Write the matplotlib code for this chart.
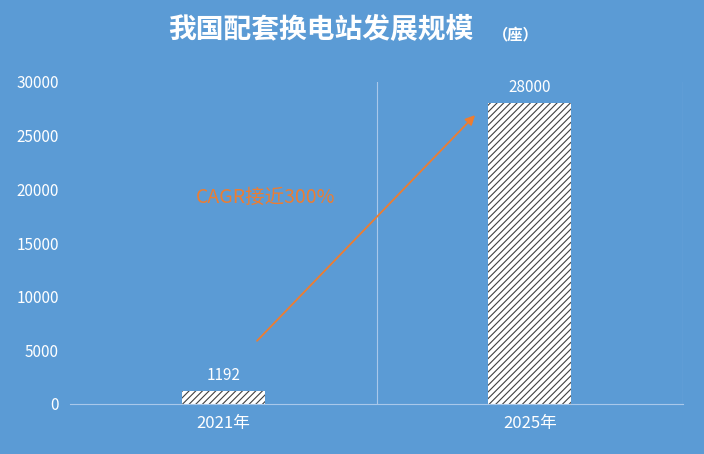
import matplotlib
matplotlib.use('Agg')
from matplotlib import pyplot as plt

plt.rcParams['font.family'] = ['Noto Sans CJK SC', 'DejaVu Sans']
plt.rcParams['hatch.color'] = '#404040'
plt.rcParams['hatch.linewidth'] = 0.8

categories = ['2021年', '2025年']
values = [1192, 28000]
value_labels = ['1192', '28000']
yticks = [0, 5000, 10000, 15000, 20000, 25000, 30000]

bg = '#5B9BD5'
fig = plt.figure(figsize=(7.04, 4.54), dpi=100, facecolor=bg)
ax = fig.add_axes([70 / 704, 50 / 454, 613 / 704, 322 / 454], facecolor=bg)

x = [0, 1]
ax.bar(x, values, width=0.27, color='white', edgecolor='#404040', linewidth=0, hatch='/////')
for xi, v, lab in zip(x, values, value_labels):
    ax.text(xi, v + 700, lab, ha='center', va='bottom', color='white', fontsize=11)

ax.set_xlim(-0.5, 1.5)
ax.set_ylim(0, 30000)
ax.set_yticks(yticks)
ax.set_yticklabels([str(t) for t in yticks], color='white', fontsize=11)
ax.set_xticks(x)
ax.set_xticklabels(categories, color='white', fontsize=12)
ax.tick_params(length=0, pad=8)
for xv in [0.5, 1.5]:
    ax.axvline(xv, color='#A9C8EA', linewidth=0.8)
for s in ['top', 'right', 'left']:
    ax.spines[s].set_visible(False)
ax.spines['bottom'].set_color('#A9C8EA')

# growth arrow
ax.annotate('', xy=(0.828, 27100), xytext=(0.104, 5700),
            arrowprops=dict(arrowstyle='-|>', color='#ED7D31', lw=1.3, mutation_scale=14))
ax.text(-0.09, 19200, 'CAGR接近300%', color='#ED7D31', fontsize=14, va='center')

fig.text(0.455, 0.935, '我国配套换电站发展规模', ha='center', va='center',
         color='white', fontsize=20, fontweight='bold')
fig.text(0.70, 0.925, '（座）', ha='left', va='center', color='white', fontsize=11, fontweight='bold')

fig.savefig('out.png', dpi=100, facecolor=bg)
